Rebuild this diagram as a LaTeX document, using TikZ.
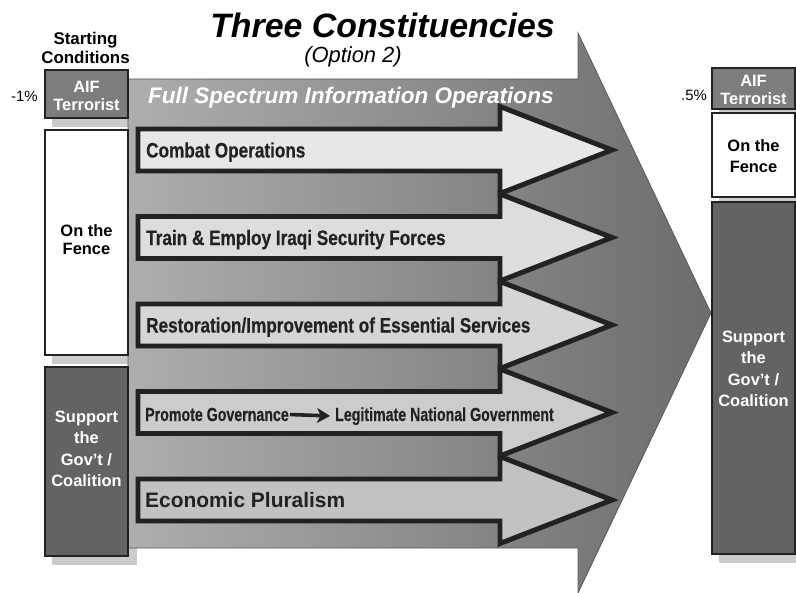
\documentclass[tikz,border=0pt]{standalone}
\usepackage{fontspec}
\setmainfont{Liberation Sans}
\newfontfamily\narrowfont{Liberation Sans}[FakeStretch=0.82,FakeBold=0.4]
\newfontfamily\narrowerfont{Liberation Sans}[FakeStretch=0.75,FakeBold=0.4]
\usetikzlibrary{arrows.meta}
\definecolor{shadowgray}{HTML}{CBCBCB}
\definecolor{aifgray}{HTML}{7D7D7D}
\definecolor{supgray}{HTML}{636363}
\definecolor{boxline}{HTML}{222222}
\definecolor{bigleft}{HTML}{AEAEAE}
\definecolor{bigright}{HTML}{6C6C6C}
\definecolor{arrA}{HTML}{E7E7E7}
\definecolor{arrB}{HTML}{DDDDDD}
\definecolor{arrC}{HTML}{D5D5D5}
\definecolor{arrD}{HTML}{CCCCCC}
\definecolor{arrE}{HTML}{C2C2C2}
\begin{document}
\begin{tikzpicture}[x=1bp,y=-1bp,
  shadowbox/.style={fill=shadowgray, draw=none},
  colbox/.style={draw=boxline, line width=2.5},
  boxtxt/.style={align=center, inner sep=0, font=\fontsize{16.5}{18}\selectfont\bfseries},
  suptxt/.style={align=center, inner sep=0, text=white, font=\fontsize{16.5}{21.5}\selectfont\bfseries},
  innerarrow/.style={draw=boxline, line width=5, line join=miter},
  arrlbl/.style={anchor=base west, inner sep=0, text=boxline, font=\narrowfont\fontsize{21}{24}\selectfont\bfseries},
  pglbl/.style={anchor=base west, inner sep=0, text=boxline, font=\narrowerfont\fontsize{19}{22}\selectfont\bfseries},
  pctlbl/.style={anchor=base west, inner sep=0, font=\fontsize{15}{18}\selectfont}
]
\useasboundingbox (0,0) rectangle (796,593);

% shadows
\fill[shadowbox] (52,79) rectangle (135,127);
\fill[shadowbox] (52,139) rectangle (135,364);
\fill[shadowbox] (52,376) rectangle (137,565);
\fill[shadowbox] (719,77) rectangle (802,118);
\fill[shadowbox] (719,122) rectangle (802,206);
\fill[shadowbox] (719,211) rectangle (802,563);

% big arrow
\shade[left color=bigleft, right color=bigright, draw=black!65, line width=0.8]
  (128,79) -- (578,79) -- (578,33) -- (711,313) -- (578,593) -- (578,548) -- (128,548) -- cycle;

% inner arrows
\foreach \c/\col in {150/arrA, 237.5/arrB, 325/arrC, 412.5/arrD, 500/arrE}{
  \filldraw[innerarrow, fill=\col]
    (138,\c-21) -- (500,\c-21) -- (500,\c-43.5) -- (612,\c) -- (500,\c+43.5)
    -- (500,\c+21) -- (138,\c+21) -- cycle;
}

% arrow labels
\node[arrlbl] (combat) at (146,157.5) {Combat Operations};
\node[arrlbl] (train) at (146,245) {Train \& Employ Iraqi Security Forces};
\node[arrlbl] (resto) at (146,332.5) {Restoration/Improvement of Essential Services};
\node[pglbl] (pg) at (145,421) {Promote Governance};
\node[pglbl] (lng) at (335,421) {Legitimate National Government};
\draw[line width=3.6, draw=boxline, shorten <=1, shorten >=5,
  -{Stealth[length=13, width=15, inset=3.5]}] (pg.east) -- (lng.west);
\node[anchor=base west, inner sep=0, text=boxline, font=\fontsize{21}{24}\selectfont\bfseries] (econ) at (145,507) {Economic Pluralism};

\node[anchor=base west, inner sep=0, text=white, font=\fontsize{22.6}{26}\selectfont\bfseries\itshape] (fsio) at (148,104) {Full Spectrum Information Operations};

% title
\node[anchor=base, inner sep=0, font=\fontsize{34}{40}\selectfont\bfseries\itshape] (title) at (382.5,38) {Three Constituencies};
\node[anchor=base, inner sep=0, font=\fontsize{22}{26}\selectfont\itshape] (option) at (353,63) {(Option 2)};

% left column
\node[align=center, inner sep=0, font=\fontsize{17}{19}\selectfont\bfseries] (start) at (85.5,47.5) {Starting\\Conditions};
\draw[colbox, fill=aifgray] (45,70) rectangle (128,118);
\draw[colbox, fill=white] (45,130) rectangle (128,355);
\draw[colbox, fill=supgray] (45,367) rectangle (128,556);
\node[boxtxt, text=white] (aifL) at (86.5,96) {AIF\\Terrorist};
\node[boxtxt] (fenceL) at (86.5,240) {On the\\Fence};
\node[suptxt] (supL) at (86.5,449) {Support\\the\\Gov’t /\\Coalition};
\node[pctlbl] (pctL) at (11,102) {-1\%};

% right column
\draw[colbox, fill=aifgray] (712,68) rectangle (795,109);
\draw[colbox, fill=white] (712,113) rectangle (795,197);
\draw[colbox, fill=supgray] (712,202) rectangle (795,554);
\node[boxtxt, text=white] (aifR) at (753.5,90) {AIF\\Terrorist};
\node[align=center, inner sep=0, font=\fontsize{16.5}{21}\selectfont\bfseries] (fenceR) at (753.5,156.5) {On the\\Fence};
\node[suptxt] (supR) at (753.5,369) {Support\\the\\Gov’t /\\Coalition};
\node[pctlbl] (pctR) at (681,101) {.5\%};
\end{tikzpicture}
\end{document}
